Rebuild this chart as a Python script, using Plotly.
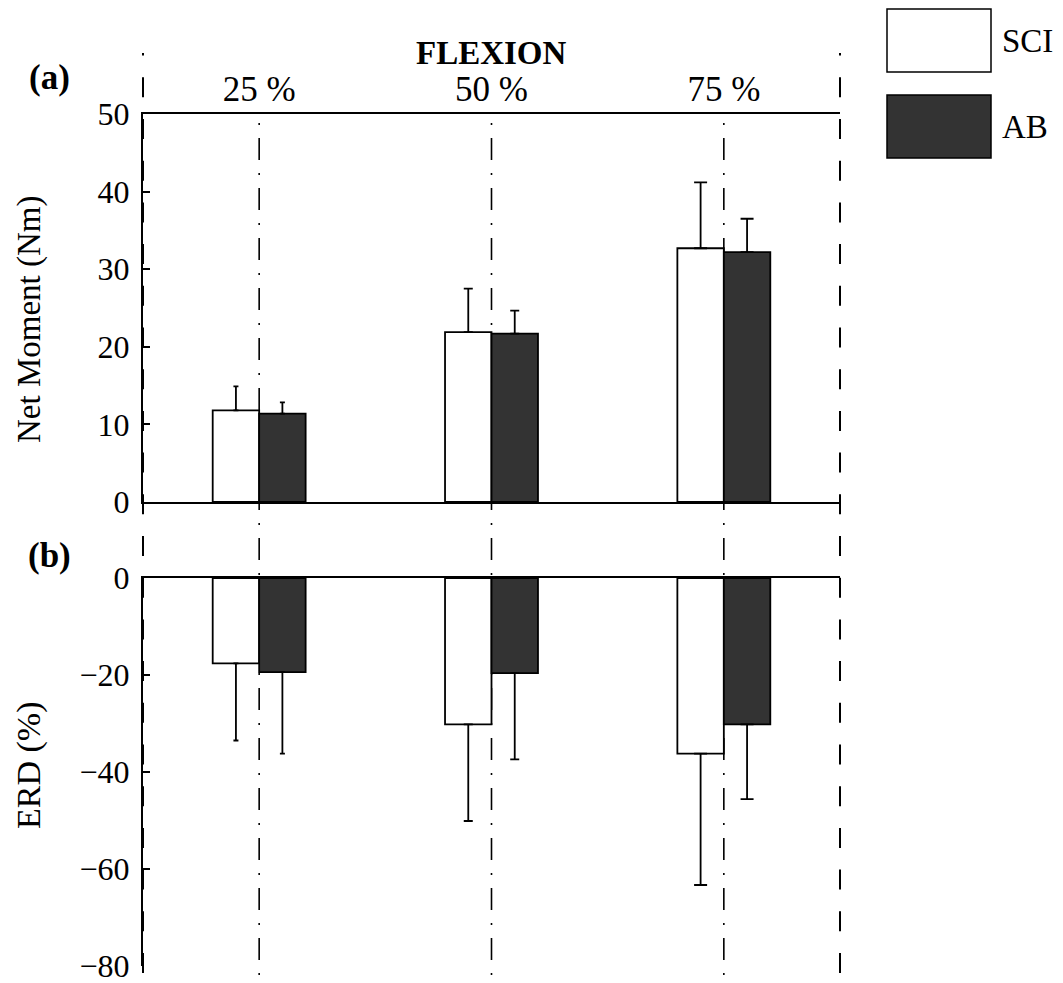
import plotly.graph_objects as go

# ---------------- data ----------------
categories = ["25 %", "50 %", "75 %"]
cat_pos = [1, 2, 3]
group_names = ["SCI", "AB"]
group_colors = ["#ffffff", "#333333"]

moment_sci = [11.8, 21.9, 32.7]
moment_sci_err = [3.1, 5.6, 8.5]
moment_ab = [11.4, 21.7, 32.2]
moment_ab_err = [1.45, 2.95, 4.3]

erd_sci = [-17.6, -30.2, -36.2]
erd_sci_err = [15.9, 19.9, 27.1]
erd_ab = [-19.4, -19.6, -30.2]
erd_ab_err = [16.8, 17.8, 15.4]

moment_ticks = [0, 10, 20, 30, 40, 50]
erd_ticks = [-80, -60, -40, -20, 0]

# ---------------- layout helpers ----------------
W, H = 1063, 983
OFF = 8  # page body margin
PLOT_L, PLOT_R, PLOT_T, PLOT_B = 143, 840, 114, 966  # target screen pixels
L = PLOT_L - OFF
T = PLOT_T - OFF
R = W - (PLOT_R - OFF)
B = H - (PLOT_B - OFF)
PW, PH = W - L - R, H - T - B
FONT = "Liberation Serif, Times New Roman, serif"


def px_x(px):
    return (px - OFF - L) / PW


def px_y(py):
    return (H - B - (py - OFF)) / PH


bar_w = 0.2
offsets = [-bar_w, 0.0]
cap_half = [2.5, 4.5, 6.5]

fig = go.Figure()

panels = [
    ("x", "y", [moment_sci, moment_ab], [moment_sci_err, moment_ab_err], True),
    ("x2", "y2", [erd_sci, erd_ab], [erd_sci_err, erd_ab_err], False),
]

for xa, ya, vals, errs, up in panels:
    for g in range(2):
        fig.add_trace(go.Bar(
            x=cat_pos, y=vals[g], width=bar_w, offset=offsets[g],
            marker=dict(color=group_colors[g], line=dict(color="black", width=1.8)),
            name=group_names[g], showlegend=False, xaxis=xa, yaxis=ya,
        ))
    for g in range(2):
        for i, c in enumerate(cat_pos):
            e = errs[g][i]
            fig.add_trace(go.Scatter(
                x=[c + offsets[g] + bar_w / 2], y=[vals[g][i]],
                mode="markers", marker=dict(size=1, color="rgba(0,0,0,0)"),
                error_y=dict(type="data", symmetric=False,
                             array=[e if up else 0], arrayminus=[0 if up else e],
                             color="black", thickness=1.8, width=cap_half[i]),
                showlegend=False, hoverinfo="skip", xaxis=xa, yaxis=ya,
            ))

shapes = []
# dashed outer boundaries
for xp in [PLOT_L, PLOT_R]:
    shapes.append(dict(type="line", xref="paper", yref="paper",
                       x0=px_x(xp), x1=px_x(xp), y0=px_y(973), y1=px_y(53),
                       line=dict(color="black", width=2, dash="20px,21.7px"),
                       layer="below"))
# dash-dot centre lines
for c in cat_pos:
    shapes.append(dict(type="line", xref="x", yref="paper",
                       x0=c, x1=c, y0=px_y(123), y1=px_y(983),
                       line=dict(color="black", width=1.6, dash="2px,13px,22px,13px"),
                       layer="below"))
# legend boxes
legend_boxes = [(9, 72), (95, 158)]
for g, (t, b) in enumerate(legend_boxes):
    shapes.append(dict(type="rect", xref="paper", yref="paper",
                       x0=px_x(887), x1=px_x(991), y0=px_y(b), y1=px_y(t),
                       fillcolor=group_colors[g], line=dict(color="black", width=1.5)))

annotations = []
legend_label_y = [41, 127]
for g in range(2):
    annotations.append(dict(text=group_names[g], xref="paper", yref="paper",
                            x=px_x(1000), y=px_y(legend_label_y[g]),
                            xanchor="left", yanchor="middle", showarrow=False,
                            font=dict(size=33, color="black", family=FONT)))
annotations.append(dict(text="<b>FLEXION</b>", xref="paper", yref="paper",
                        x=px_x(491), y=px_y(53), xanchor="center", yanchor="middle",
                        showarrow=False, font=dict(size=33, color="black", family=FONT)))
annotations.append(dict(text="<b>(a)</b>", xref="paper", yref="paper",
                        x=px_x(49), y=px_y(77), xanchor="center", yanchor="middle",
                        showarrow=False, font=dict(size=35, color="black", family=FONT)))
annotations.append(dict(text="<b>(b)</b>", xref="paper", yref="paper",
                        x=px_x(49), y=px_y(555), xanchor="center", yanchor="middle",
                        showarrow=False, font=dict(size=35, color="black", family=FONT)))
annotations.append(dict(text="Net Moment (Nm)", xref="paper", yref="paper",
                        x=px_x(29), y=px_y(320), xanchor="center", yanchor="middle",
                        textangle=-90, showarrow=False,
                        font=dict(size=33, color="black", family=FONT)))
annotations.append(dict(text="ERD (%)", xref="paper", yref="paper",
                        x=px_x(29), y=px_y(766), xanchor="center", yanchor="middle",
                        textangle=-90, showarrow=False,
                        font=dict(size=34, color="black", family=FONT)))

axis_common = dict(showgrid=False, zeroline=False, linecolor="black", linewidth=2)
tick_font = dict(size=32, color="black", family=FONT)

fig.update_layout(
    width=W, height=H,
    margin=dict(l=L, r=R, t=T, b=B, autoexpand=False),
    paper_bgcolor="white", plot_bgcolor="rgba(0,0,0,0)",
    barmode="overlay", showlegend=False,
    font=dict(family=FONT, color="black"),
    xaxis=dict(domain=[0, 1], range=[0.5, 3.5], anchor="y", side="top",
               showline=True, mirror=True, ticks="", tickvals=cat_pos,
               ticktext=categories, ticklabelstandoff=-3,
               tickfont=dict(size=35, color="black", family=FONT), **axis_common),
    yaxis=dict(domain=[px_y(502), 1], range=[0, 50], anchor="x",
               showline=True, ticks="inside", ticklen=7, tickwidth=1.5,
               tickcolor="black", tickvals=moment_ticks, ticklabelstandoff=5,
               tickfont=tick_font, **axis_common),
    xaxis2=dict(domain=[0, 1], range=[0.5, 3.5], anchor="y2", side="top",
                showline=True, ticks="", showticklabels=False, **axis_common),
    yaxis2=dict(domain=[0, px_y(578)], range=[-80, 0], anchor="x2",
                showline=True, ticks="inside", ticklen=7, tickwidth=1.5,
                tickcolor="black", tickvals=erd_ticks, ticklabelstandoff=5,
                tickfont=tick_font, **axis_common),
    shapes=shapes, annotations=annotations,
)

fig.write_html("out.html")
